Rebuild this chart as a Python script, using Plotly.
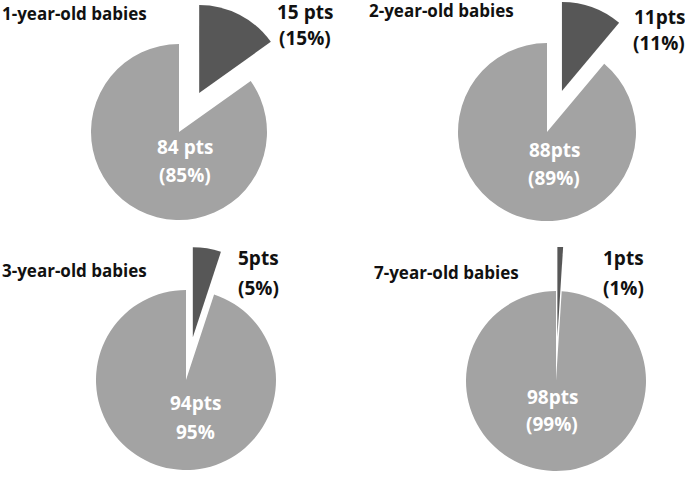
import math
import plotly.graph_objects as go

# ---- data ----
titles = ["1-year-old babies", "2-year-old babies", "3-year-old babies", "7-year-old babies"]
small_pts = [15, 11, 5, 1]
big_pts = [84, 88, 94, 98]
small_line1 = ["15 pts", "11pts", "5pts", "1pts"]
small_line2 = ["(15%)", "(11%)", "(5%)", "(1%)"]
big_line1 = ["84 pts", "88pts", "94pts", "98pts"]
big_line2 = ["(85%)", "(89%)", "95%", "(99%)"]

# ---- layout (pixels) ----
W, H = 685, 477
centers = [(179, 132), (547, 132), (186, 380), (556, 381)]
radii = [88, 89, 90, 90]
pulls = [0.5, 0.49, 0.48, 0.49]
title_pos = [(0, 14), (367, 10), (0, 270), (372, 272)]
small_lab_pos = [(305, 12, 38), (659, 17, 43), (258, 258, 288), (623, 258, 288)]
big_lab_pos = [(185, 147, 175), (554, 150, 178), (195, 403, 432), (552, 397, 424)]

DARK = "#575757"
LIGHT = "#a3a3a3"
CLEAR = "rgba(0,0,0,0)"


def px_x(x):
    return x / W


def px_y(y):
    return 1 - y / H


def clamp(v):
    return max(0.0, min(1.0, v))


def domain(cx, cy, r):
    return dict(x=[clamp((cx - r) / W), clamp((cx + r) / W)],
                y=[clamp(1 - (cy + r) / H), clamp(1 - (cy - r) / H)])


fig = go.Figure()
annotations = []
font_family = "Open Sans, Lato, sans-serif"

for i in range(4):
    cx, cy = centers[i]
    r = radii[i]
    vals = [small_pts[i], big_pts[i]]
    total = sum(vals)
    mid = math.pi * small_pts[i] / total  # mid-angle of small slice, clockwise from top
    ox = cx + pulls[i] * r * math.sin(mid)
    oy = cy - pulls[i] * r * math.cos(mid)

    common = dict(values=vals, labels=["small", "big"], sort=False, direction="clockwise",
                  rotation=0, textinfo="none", hoverinfo="skip", showlegend=False)
    # big slice
    fig.add_trace(go.Pie(domain=domain(cx, cy, r),
                         marker=dict(colors=[CLEAR, LIGHT], line=dict(width=0)), **common))
    # pulled-out small slice
    fig.add_trace(go.Pie(domain=domain(ox, oy, r),
                         marker=dict(colors=[DARK, CLEAR], line=dict(width=0)), **common))

    tx, ty = title_pos[i]
    annotations.append(dict(text=f"<b>{titles[i]}</b>", x=px_x(tx), y=px_y(ty), xref="paper", yref="paper",
                            xanchor="left", yanchor="middle", showarrow=False,
                            font=dict(family=font_family, size=17, color="#111111")))
    sx, sy1, sy2 = small_lab_pos[i]
    for txt, yy in ((small_line1[i], sy1), (small_line2[i], sy2)):
        annotations.append(dict(text=f"<b>{txt}</b>", x=px_x(sx), y=px_y(yy), xref="paper", yref="paper",
                                xanchor="center", yanchor="middle", showarrow=False,
                                font=dict(family=font_family, size=19, color="#111111")))
    bx, by1, by2 = big_lab_pos[i]
    for txt, yy in ((big_line1[i], by1), (big_line2[i], by2)):
        annotations.append(dict(text=f"<b>{txt}</b>", x=px_x(bx), y=px_y(yy), xref="paper", yref="paper",
                                xanchor="center", yanchor="middle", showarrow=False,
                                font=dict(family=font_family, size=19, color="white")))

fig.update_layout(width=W, height=H, margin=dict(l=0, r=0, t=0, b=0),
                  paper_bgcolor="white", plot_bgcolor="white", annotations=annotations)

fig.write_html("out.html", config={"displayModeBar": False},
               post_script="document.body.style.margin='0';")
